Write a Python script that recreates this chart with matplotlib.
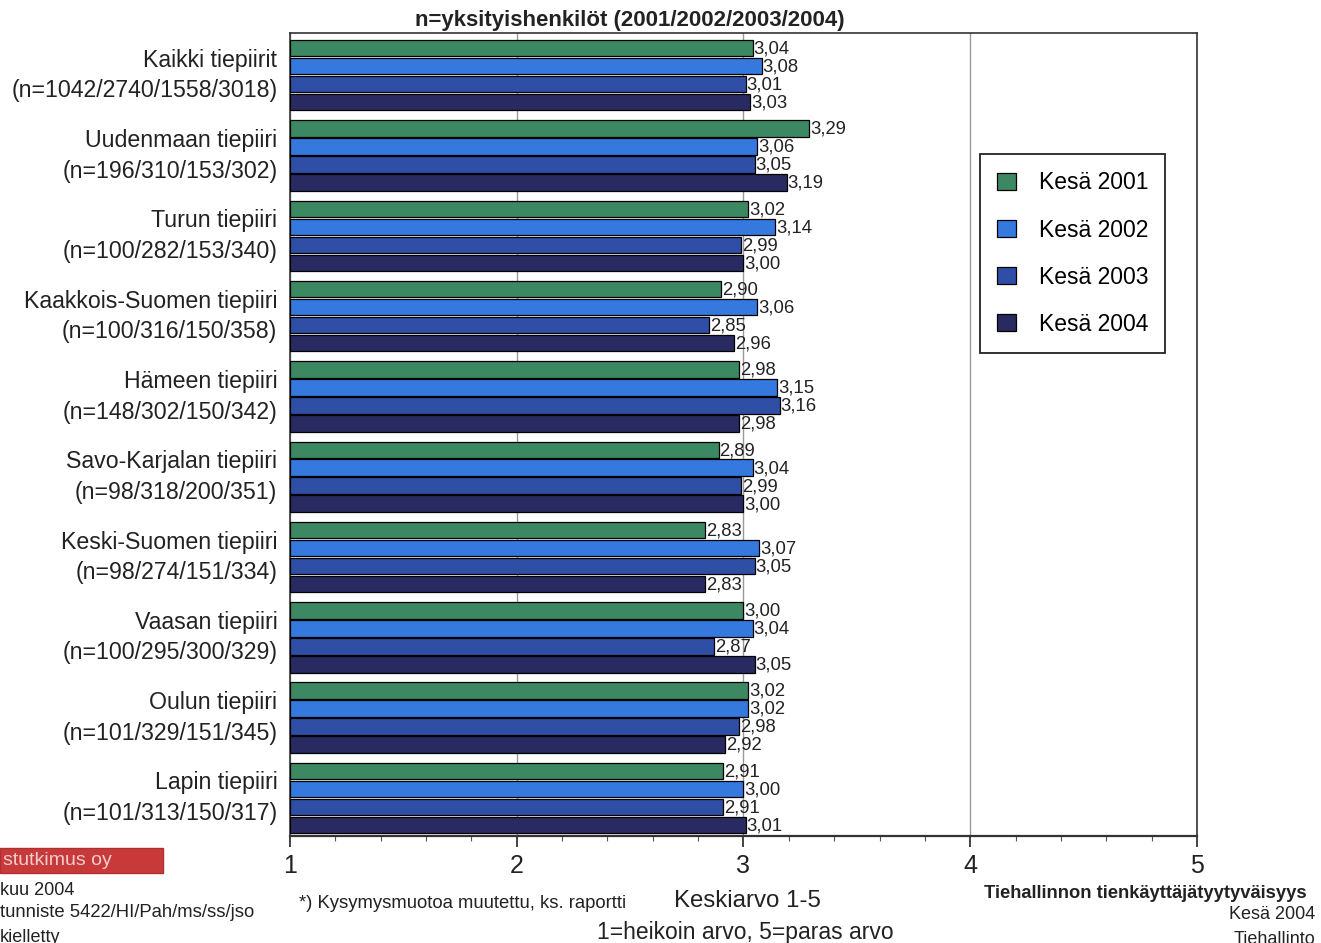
import matplotlib
matplotlib.use("Agg")
from matplotlib import pyplot as plt
from matplotlib.ticker import MultipleLocator
from matplotlib.patches import Rectangle
import numpy as np

plt.rcParams['font.family'] = ['Liberation Sans', 'DejaVu Sans']

# Data
districts = ["Kaikki tiepiirit", "Uudenmaan tiepiiri", "Turun tiepiiri",
             "Kaakkois-Suomen tiepiiri", "Hämeen tiepiiri", "Savo-Karjalan tiepiiri",
             "Keski-Suomen tiepiiri", "Vaasan tiepiiri", "Oulun tiepiiri", "Lapin tiepiiri"]
counts = ["(n=1042/2740/1558/3018)", "(n=196/310/153/302)", "(n=100/282/153/340)",
          "(n=100/316/150/358)", "(n=148/302/150/342)", "(n=98/318/200/351)",
          "(n=98/274/151/334)", "(n=100/295/300/329)", "(n=101/329/151/345)",
          "(n=101/313/150/317)"]
years = ["Kesä 2001", "Kesä 2002", "Kesä 2003", "Kesä 2004"]
v2001 = [3.04, 3.29, 3.02, 2.90, 2.98, 2.89, 2.83, 3.00, 3.02, 2.91]
v2002 = [3.08, 3.06, 3.14, 3.06, 3.15, 3.04, 3.07, 3.04, 3.02, 3.00]
v2003 = [3.01, 3.05, 2.99, 2.85, 3.16, 2.99, 3.05, 2.87, 2.98, 2.91]
v2004 = [3.03, 3.19, 3.00, 2.96, 2.98, 3.00, 2.83, 3.05, 2.92, 3.01]
series = [v2001, v2002, v2003, v2004]
colors = ["#3c8862", "#3579de", "#2f4ea6", "#2a2a62"]
xticks = [1, 2, 3, 4, 5]

fig = plt.figure(figsize=(13.21, 9.43), dpi=100)
ax = fig.add_axes([0.2195, 0.1135, 0.6866, 0.8515])

base = 1.0
barh = 0.205
pitch = 0.224
grp = np.arange(len(districts))
for j, vals in enumerate(series):
    ypos = grp + 0.19 + j * pitch
    vals = np.array(vals)
    ax.barh(ypos, vals - base, left=base, height=barh, color=colors[j],
            edgecolor="black", linewidth=0.9, label=years[j], zorder=3)
    for y, v in zip(ypos, vals):
        ax.text(v + 0.004, y + 0.01, ("%.2f" % v).replace(".", ","), fontsize=13.3,
                va="center", ha="left", color="#222222", zorder=4)

ax.set_xlim(1, 5)
ax.set_ylim(len(districts), 0)
ax.set_xticks(xticks)
ax.xaxis.set_minor_locator(MultipleLocator(0.2))
ax.tick_params(axis="x", which="major", direction="out", length=8, width=1.2,
               labelsize=18, pad=5, colors="#222222")
ax.tick_params(axis="x", which="minor", direction="out", length=3.5, width=0.8, colors="#555555")
ax.grid(axis="x", which="major", color="#999999", linewidth=1.0, zorder=0)
ax.set_yticks([])
for s in ax.spines.values():
    s.set_color("#333333")
    s.set_linewidth(1.2)
ax.spines["bottom"].set_linewidth(1.6)

# Category labels
for i in grp:
    ax.text(-0.014, i + 0.34, districts[i], transform=ax.get_yaxis_transform(),
            ha="right", va="center", fontsize=16.7, color="#222222")
    ax.text(-0.014, i + 0.72, counts[i], transform=ax.get_yaxis_transform(),
            ha="right", va="center", fontsize=16.7, color="#222222")

leg = ax.legend(loc="upper left", bbox_to_anchor=(0.761, 0.849), fontsize=16.5,
                handlelength=0.8, handleheight=0.8, labelspacing=1.05,
                borderpad=0.75, handletextpad=1.0, borderaxespad=0, fancybox=False, framealpha=1)
leg.get_frame().set_edgecolor("#222222")
leg.get_frame().set_linewidth(1.3)

fig.text(0.477, 0.978, "n=yksityishenkilöt (2001/2002/2003/2004)", ha="center",
         va="center", fontsize=16, fontweight="bold", color="#222222")

# Bottom texts
fig.text(0.226, 0.042, "*) Kysymysmuotoa muutettu, ks. raportti", fontsize=13.3,
         ha="left", va="center", color="#222222")
fig.text(0.566, 0.045, "Keskiarvo 1-5", fontsize=17.3, ha="center", va="center", color="#222222")
fig.text(0.564, 0.011, "1=heikoin arvo, 5=paras arvo", fontsize=16.5, ha="center",
         va="center", color="#222222")
fig.text(0.989, 0.053, "Tiehallinnon tienkäyttäjätyytyväisyys", fontsize=13.2,
         fontweight="bold", ha="right", va="center", color="#222222")
fig.text(0.996, 0.030, "Kesä 2004", fontsize=13, ha="right", va="center", color="#222222")
fig.text(0.996, 0.004, "Tiehallinto", fontsize=13, ha="right", va="center", color="#222222")

fig.patches.append(Rectangle((0, 0.0742), 0.1234, 0.0265, transform=fig.transFigure,
                             facecolor="#c83a3a", edgecolor="#b03030", linewidth=1))
fig.text(0.002, 0.087, "stutkimus oy", fontsize=14, ha="left", va="center", color="#f3cccc")
fig.text(0.0, 0.056, "kuu 2004", fontsize=13, ha="left", va="center", color="#222222")
fig.text(0.0, 0.032, "tunniste 5422/HI/Pah/ms/ss/jso", fontsize=13.3, ha="left",
         va="center", color="#222222")
fig.text(0.0, 0.006, "kielletty", fontsize=13, ha="left", va="center", color="#222222")

fig.savefig("out.png", dpi=100)
